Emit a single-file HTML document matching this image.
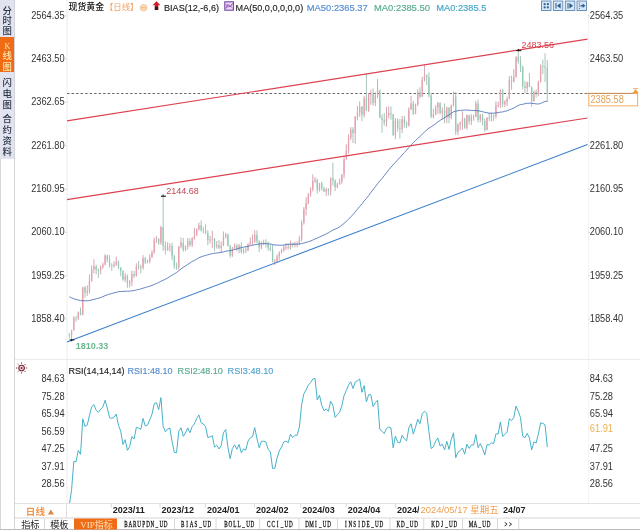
<!DOCTYPE html>
<html><head><meta charset="utf-8"><style>
html,body{margin:0;padding:0;background:#fff;}
body{width:640px;height:530px;overflow:hidden;position:relative;}
.sb{position:absolute;left:0;width:14px;font-family:"Noto Sans CJK SC",sans-serif;font-size:9px;line-height:10.7px;text-align:center;color:#333;}
</style></head><body>
<svg width="640" height="530" viewBox="0 0 640 530" style="position:absolute;left:0;top:0">
<rect x="0" y="0" width="640" height="530" fill="#fff"/>
<rect x="0" y="0" width="14" height="159" fill="#e1e4ee"/>
<rect x="0" y="37" width="14" height="35" fill="#f06c14"/>
<line x1="0.5" y1="159" x2="0.5" y2="530" stroke="#d8d8d8" stroke-width="1"/>
<line x1="14.5" y1="0" x2="14.5" y2="530" stroke="#d2d4da" stroke-width="1"/>
<line x1="67" y1="0" x2="67" y2="503" stroke="#ececec" stroke-width="1"/>
<line x1="588.5" y1="14" x2="588.5" y2="503" stroke="#f4f4f4" stroke-width="1"/>
<line x1="15" y1="359.5" x2="640" y2="359.5" stroke="#ebebeb" stroke-width="1"/>
<line x1="15" y1="503.5" x2="640" y2="503.5" stroke="#e2e2e2" stroke-width="1"/>
<line x1="15" y1="518" x2="640" y2="518" stroke="#d4d4d4" stroke-width="1"/>
<line x1="0" y1="529.5" x2="640" y2="529.5" stroke="#bbb" stroke-width="1"/>
<line x1="67.1" y1="93.5" x2="588" y2="93.5" stroke="#444" stroke-width="1" stroke-dasharray="2.5 2" opacity="0.8"/><line x1="69.35" y1="332.90" x2="69.35" y2="338.49" stroke="#88b0a0" stroke-width="0.75"/><rect x="68.70" y="335.05" width="1.3" height="0.80" fill="#92ccb4"/><line x1="71.58" y1="329.90" x2="71.58" y2="339.64" stroke="#c88898" stroke-width="0.75"/><rect x="70.93" y="330.33" width="1.3" height="5.16" fill="#e6a0ae"/><line x1="73.82" y1="316.15" x2="73.82" y2="330.33" stroke="#c88898" stroke-width="0.75"/><rect x="73.17" y="317.87" width="1.3" height="12.46" fill="#e6a0ae"/><line x1="76.05" y1="316.15" x2="76.05" y2="321.74" stroke="#88b0a0" stroke-width="0.75"/><rect x="75.40" y="317.87" width="1.3" height="0.80" fill="#92ccb4"/><line x1="78.28" y1="311.42" x2="78.28" y2="320.02" stroke="#c88898" stroke-width="0.75"/><rect x="77.63" y="312.28" width="1.3" height="6.01" fill="#e6a0ae"/><line x1="80.52" y1="307.56" x2="80.52" y2="315.29" stroke="#88b0a0" stroke-width="0.75"/><rect x="79.87" y="312.28" width="1.3" height="2.58" fill="#92ccb4"/><line x1="82.75" y1="286.94" x2="82.75" y2="315.29" stroke="#c88898" stroke-width="0.75"/><rect x="82.10" y="287.37" width="1.3" height="27.49" fill="#e6a0ae"/><line x1="84.98" y1="286.08" x2="84.98" y2="297.68" stroke="#88b0a0" stroke-width="0.75"/><rect x="84.33" y="287.37" width="1.3" height="5.16" fill="#92ccb4"/><line x1="87.22" y1="285.22" x2="87.22" y2="295.96" stroke="#c88898" stroke-width="0.75"/><rect x="86.57" y="291.23" width="1.3" height="1.29" fill="#e6a0ae"/><line x1="89.45" y1="274.48" x2="89.45" y2="293.81" stroke="#c88898" stroke-width="0.75"/><rect x="88.80" y="280.92" width="1.3" height="10.31" fill="#e6a0ae"/><line x1="91.68" y1="265.46" x2="91.68" y2="281.78" stroke="#c88898" stroke-width="0.75"/><rect x="91.03" y="269.32" width="1.3" height="11.60" fill="#e6a0ae"/><line x1="93.92" y1="259.44" x2="93.92" y2="273.19" stroke="#c88898" stroke-width="0.75"/><rect x="93.27" y="266.32" width="1.3" height="3.01" fill="#e6a0ae"/><line x1="96.15" y1="264.60" x2="96.15" y2="274.48" stroke="#88b0a0" stroke-width="0.75"/><rect x="95.50" y="266.32" width="1.3" height="3.44" fill="#92ccb4"/><line x1="98.38" y1="268.46" x2="98.38" y2="277.92" stroke="#88b0a0" stroke-width="0.75"/><rect x="97.73" y="269.75" width="1.3" height="1.29" fill="#92ccb4"/><line x1="100.62" y1="265.46" x2="100.62" y2="274.48" stroke="#c88898" stroke-width="0.75"/><rect x="99.97" y="267.18" width="1.3" height="3.87" fill="#e6a0ae"/><line x1="102.85" y1="262.45" x2="102.85" y2="268.89" stroke="#c88898" stroke-width="0.75"/><rect x="102.20" y="264.60" width="1.3" height="2.58" fill="#e6a0ae"/><line x1="105.08" y1="254.29" x2="105.08" y2="265.46" stroke="#c88898" stroke-width="0.75"/><rect x="104.43" y="255.58" width="1.3" height="9.02" fill="#e6a0ae"/><line x1="107.32" y1="254.72" x2="107.32" y2="262.45" stroke="#88b0a0" stroke-width="0.75"/><rect x="106.67" y="255.58" width="1.3" height="4.30" fill="#92ccb4"/><line x1="109.55" y1="255.15" x2="109.55" y2="267.61" stroke="#88b0a0" stroke-width="0.75"/><rect x="108.90" y="259.87" width="1.3" height="5.58" fill="#92ccb4"/><line x1="111.78" y1="263.31" x2="111.78" y2="271.04" stroke="#88b0a0" stroke-width="0.75"/><rect x="111.13" y="265.46" width="1.3" height="0.80" fill="#92ccb4"/><line x1="114.02" y1="261.16" x2="114.02" y2="267.61" stroke="#c88898" stroke-width="0.75"/><rect x="113.37" y="264.60" width="1.3" height="1.29" fill="#e6a0ae"/><line x1="116.25" y1="256.44" x2="116.25" y2="265.89" stroke="#c88898" stroke-width="0.75"/><rect x="115.60" y="261.59" width="1.3" height="3.01" fill="#e6a0ae"/><line x1="118.48" y1="260.73" x2="118.48" y2="268.89" stroke="#88b0a0" stroke-width="0.75"/><rect x="117.83" y="261.59" width="1.3" height="6.01" fill="#92ccb4"/><line x1="120.72" y1="267.18" x2="120.72" y2="276.20" stroke="#88b0a0" stroke-width="0.75"/><rect x="120.07" y="267.61" width="1.3" height="3.44" fill="#92ccb4"/><line x1="122.95" y1="270.18" x2="122.95" y2="280.92" stroke="#88b0a0" stroke-width="0.75"/><rect x="122.30" y="271.04" width="1.3" height="8.59" fill="#92ccb4"/><line x1="125.19" y1="273.19" x2="125.19" y2="282.21" stroke="#c88898" stroke-width="0.75"/><rect x="124.53" y="276.20" width="1.3" height="3.44" fill="#e6a0ae"/><line x1="127.42" y1="274.48" x2="127.42" y2="287.80" stroke="#88b0a0" stroke-width="0.75"/><rect x="126.77" y="276.20" width="1.3" height="7.73" fill="#92ccb4"/><line x1="129.65" y1="280.06" x2="129.65" y2="287.37" stroke="#c88898" stroke-width="0.75"/><rect x="129.00" y="281.35" width="1.3" height="2.58" fill="#e6a0ae"/><line x1="131.89" y1="270.61" x2="131.89" y2="286.08" stroke="#c88898" stroke-width="0.75"/><rect x="131.24" y="274.05" width="1.3" height="7.30" fill="#e6a0ae"/><line x1="134.12" y1="271.04" x2="134.12" y2="277.92" stroke="#88b0a0" stroke-width="0.75"/><rect x="133.47" y="274.05" width="1.3" height="1.72" fill="#92ccb4"/><line x1="136.35" y1="263.31" x2="136.35" y2="276.63" stroke="#c88898" stroke-width="0.75"/><rect x="135.70" y="266.32" width="1.3" height="9.45" fill="#e6a0ae"/><line x1="138.59" y1="261.16" x2="138.59" y2="269.75" stroke="#88b0a0" stroke-width="0.75"/><rect x="137.94" y="266.32" width="1.3" height="0.80" fill="#92ccb4"/><line x1="140.82" y1="264.60" x2="140.82" y2="273.19" stroke="#88b0a0" stroke-width="0.75"/><rect x="140.17" y="266.75" width="1.3" height="0.86" fill="#92ccb4"/><line x1="143.05" y1="255.15" x2="143.05" y2="269.75" stroke="#c88898" stroke-width="0.75"/><rect x="142.40" y="258.15" width="1.3" height="9.45" fill="#e6a0ae"/><line x1="145.29" y1="256.87" x2="145.29" y2="264.17" stroke="#88b0a0" stroke-width="0.75"/><rect x="144.64" y="258.15" width="1.3" height="4.30" fill="#92ccb4"/><line x1="147.52" y1="259.44" x2="147.52" y2="263.31" stroke="#c88898" stroke-width="0.75"/><rect x="146.87" y="261.59" width="1.3" height="0.86" fill="#e6a0ae"/><line x1="149.75" y1="254.29" x2="149.75" y2="263.31" stroke="#c88898" stroke-width="0.75"/><rect x="149.10" y="257.30" width="1.3" height="4.30" fill="#e6a0ae"/><line x1="151.99" y1="250.42" x2="151.99" y2="257.72" stroke="#c88898" stroke-width="0.75"/><rect x="151.34" y="252.14" width="1.3" height="5.16" fill="#e6a0ae"/><line x1="154.22" y1="237.53" x2="154.22" y2="253.86" stroke="#c88898" stroke-width="0.75"/><rect x="153.57" y="240.54" width="1.3" height="11.60" fill="#e6a0ae"/><line x1="156.45" y1="235.82" x2="156.45" y2="243.12" stroke="#c88898" stroke-width="0.75"/><rect x="155.80" y="239.25" width="1.3" height="1.29" fill="#e6a0ae"/><line x1="158.69" y1="237.96" x2="158.69" y2="244.84" stroke="#88b0a0" stroke-width="0.75"/><rect x="158.04" y="239.25" width="1.3" height="3.44" fill="#92ccb4"/><line x1="160.92" y1="225.93" x2="160.92" y2="244.84" stroke="#c88898" stroke-width="0.75"/><rect x="160.27" y="227.22" width="1.3" height="15.47" fill="#e6a0ae"/><line x1="163.15" y1="196.00" x2="163.15" y2="250.85" stroke="#88b0a0" stroke-width="0.75"/><rect x="162.50" y="227.22" width="1.3" height="18.47" fill="#92ccb4"/><line x1="165.39" y1="241.40" x2="165.39" y2="254.29" stroke="#88b0a0" stroke-width="0.75"/><rect x="164.74" y="245.70" width="1.3" height="4.30" fill="#92ccb4"/><line x1="167.62" y1="242.26" x2="167.62" y2="250.85" stroke="#c88898" stroke-width="0.75"/><rect x="166.97" y="246.98" width="1.3" height="3.01" fill="#e6a0ae"/><line x1="169.85" y1="243.12" x2="169.85" y2="251.71" stroke="#c88898" stroke-width="0.75"/><rect x="169.20" y="246.13" width="1.3" height="0.86" fill="#e6a0ae"/><line x1="172.09" y1="242.69" x2="172.09" y2="260.30" stroke="#88b0a0" stroke-width="0.75"/><rect x="171.44" y="246.13" width="1.3" height="10.31" fill="#92ccb4"/><line x1="174.32" y1="254.72" x2="174.32" y2="268.89" stroke="#88b0a0" stroke-width="0.75"/><rect x="173.67" y="256.44" width="1.3" height="9.88" fill="#92ccb4"/><line x1="176.55" y1="262.45" x2="176.55" y2="269.75" stroke="#88b0a0" stroke-width="0.75"/><rect x="175.90" y="266.32" width="1.3" height="0.80" fill="#92ccb4"/><line x1="178.79" y1="246.13" x2="178.79" y2="269.75" stroke="#c88898" stroke-width="0.75"/><rect x="178.14" y="246.56" width="1.3" height="20.19" fill="#e6a0ae"/><line x1="181.02" y1="237.53" x2="181.02" y2="248.27" stroke="#c88898" stroke-width="0.75"/><rect x="180.37" y="242.69" width="1.3" height="3.87" fill="#e6a0ae"/><line x1="183.25" y1="237.96" x2="183.25" y2="251.71" stroke="#88b0a0" stroke-width="0.75"/><rect x="182.60" y="242.69" width="1.3" height="7.30" fill="#92ccb4"/><line x1="185.49" y1="245.27" x2="185.49" y2="251.28" stroke="#c88898" stroke-width="0.75"/><rect x="184.84" y="246.56" width="1.3" height="3.44" fill="#e6a0ae"/><line x1="187.72" y1="237.96" x2="187.72" y2="249.56" stroke="#c88898" stroke-width="0.75"/><rect x="187.07" y="240.97" width="1.3" height="5.58" fill="#e6a0ae"/><line x1="189.95" y1="238.39" x2="189.95" y2="246.98" stroke="#88b0a0" stroke-width="0.75"/><rect x="189.30" y="240.97" width="1.3" height="3.87" fill="#92ccb4"/><line x1="192.19" y1="237.10" x2="192.19" y2="246.98" stroke="#c88898" stroke-width="0.75"/><rect x="191.54" y="238.39" width="1.3" height="6.44" fill="#e6a0ae"/><line x1="194.42" y1="227.65" x2="194.42" y2="239.68" stroke="#c88898" stroke-width="0.75"/><rect x="193.77" y="235.39" width="1.3" height="3.01" fill="#e6a0ae"/><line x1="196.65" y1="228.51" x2="196.65" y2="235.82" stroke="#c88898" stroke-width="0.75"/><rect x="196.00" y="229.37" width="1.3" height="6.01" fill="#e6a0ae"/><line x1="198.89" y1="222.50" x2="198.89" y2="230.23" stroke="#c88898" stroke-width="0.75"/><rect x="198.24" y="225.08" width="1.3" height="4.30" fill="#e6a0ae"/><line x1="201.12" y1="220.35" x2="201.12" y2="231.52" stroke="#88b0a0" stroke-width="0.75"/><rect x="200.47" y="225.08" width="1.3" height="5.16" fill="#92ccb4"/><line x1="203.35" y1="226.79" x2="203.35" y2="233.24" stroke="#88b0a0" stroke-width="0.75"/><rect x="202.70" y="230.23" width="1.3" height="0.86" fill="#92ccb4"/><line x1="205.59" y1="224.22" x2="205.59" y2="234.10" stroke="#88b0a0" stroke-width="0.75"/><rect x="204.94" y="231.09" width="1.3" height="1.72" fill="#92ccb4"/><line x1="207.82" y1="230.23" x2="207.82" y2="245.27" stroke="#88b0a0" stroke-width="0.75"/><rect x="207.17" y="232.81" width="1.3" height="7.30" fill="#92ccb4"/><line x1="210.05" y1="235.82" x2="210.05" y2="243.55" stroke="#c88898" stroke-width="0.75"/><rect x="209.40" y="239.68" width="1.3" height="0.80" fill="#e6a0ae"/><line x1="212.29" y1="230.66" x2="212.29" y2="247.84" stroke="#c88898" stroke-width="0.75"/><rect x="211.64" y="238.82" width="1.3" height="0.86" fill="#e6a0ae"/><line x1="214.52" y1="237.96" x2="214.52" y2="251.28" stroke="#88b0a0" stroke-width="0.75"/><rect x="213.87" y="238.82" width="1.3" height="7.73" fill="#92ccb4"/><line x1="216.75" y1="240.97" x2="216.75" y2="248.70" stroke="#c88898" stroke-width="0.75"/><rect x="216.10" y="245.27" width="1.3" height="1.29" fill="#e6a0ae"/><line x1="218.99" y1="240.11" x2="218.99" y2="249.13" stroke="#88b0a0" stroke-width="0.75"/><rect x="218.34" y="245.27" width="1.3" height="2.58" fill="#92ccb4"/><line x1="221.22" y1="241.40" x2="221.22" y2="252.57" stroke="#c88898" stroke-width="0.75"/><rect x="220.57" y="245.70" width="1.3" height="2.15" fill="#e6a0ae"/><line x1="223.45" y1="231.52" x2="223.45" y2="246.13" stroke="#c88898" stroke-width="0.75"/><rect x="222.80" y="237.10" width="1.3" height="8.59" fill="#e6a0ae"/><line x1="225.69" y1="232.81" x2="225.69" y2="238.39" stroke="#c88898" stroke-width="0.75"/><rect x="225.04" y="234.53" width="1.3" height="2.58" fill="#e6a0ae"/><line x1="227.92" y1="233.67" x2="227.92" y2="246.13" stroke="#88b0a0" stroke-width="0.75"/><rect x="227.27" y="234.53" width="1.3" height="11.60" fill="#92ccb4"/><line x1="230.15" y1="244.84" x2="230.15" y2="257.72" stroke="#88b0a0" stroke-width="0.75"/><rect x="229.50" y="246.13" width="1.3" height="9.45" fill="#92ccb4"/><line x1="232.39" y1="246.98" x2="232.39" y2="256.87" stroke="#c88898" stroke-width="0.75"/><rect x="231.74" y="248.27" width="1.3" height="7.30" fill="#e6a0ae"/><line x1="234.62" y1="243.55" x2="234.62" y2="249.56" stroke="#c88898" stroke-width="0.75"/><rect x="233.97" y="245.70" width="1.3" height="2.58" fill="#e6a0ae"/><line x1="236.85" y1="243.55" x2="236.85" y2="251.28" stroke="#88b0a0" stroke-width="0.75"/><rect x="236.20" y="245.70" width="1.3" height="3.44" fill="#92ccb4"/><line x1="239.09" y1="243.98" x2="239.09" y2="253.43" stroke="#c88898" stroke-width="0.75"/><rect x="238.44" y="245.70" width="1.3" height="3.44" fill="#e6a0ae"/><line x1="241.32" y1="242.26" x2="241.32" y2="253.43" stroke="#88b0a0" stroke-width="0.75"/><rect x="240.67" y="245.70" width="1.3" height="6.44" fill="#92ccb4"/><line x1="243.56" y1="248.27" x2="243.56" y2="253.86" stroke="#c88898" stroke-width="0.75"/><rect x="242.91" y="249.56" width="1.3" height="2.58" fill="#e6a0ae"/><line x1="245.79" y1="246.56" x2="245.79" y2="253.00" stroke="#88b0a0" stroke-width="0.75"/><rect x="245.14" y="249.56" width="1.3" height="0.86" fill="#92ccb4"/><line x1="248.02" y1="243.12" x2="248.02" y2="251.28" stroke="#c88898" stroke-width="0.75"/><rect x="247.37" y="244.41" width="1.3" height="6.01" fill="#e6a0ae"/><line x1="250.26" y1="237.53" x2="250.26" y2="244.84" stroke="#c88898" stroke-width="0.75"/><rect x="249.61" y="242.26" width="1.3" height="2.15" fill="#e6a0ae"/><line x1="252.49" y1="234.53" x2="252.49" y2="245.27" stroke="#c88898" stroke-width="0.75"/><rect x="251.84" y="241.40" width="1.3" height="0.86" fill="#e6a0ae"/><line x1="254.72" y1="230.23" x2="254.72" y2="243.12" stroke="#c88898" stroke-width="0.75"/><rect x="254.07" y="234.96" width="1.3" height="6.44" fill="#e6a0ae"/><line x1="256.96" y1="230.23" x2="256.96" y2="243.12" stroke="#88b0a0" stroke-width="0.75"/><rect x="256.31" y="234.96" width="1.3" height="6.44" fill="#92ccb4"/><line x1="259.19" y1="240.11" x2="259.19" y2="252.14" stroke="#88b0a0" stroke-width="0.75"/><rect x="258.54" y="241.40" width="1.3" height="6.01" fill="#92ccb4"/><line x1="261.42" y1="240.97" x2="261.42" y2="249.13" stroke="#c88898" stroke-width="0.75"/><rect x="260.77" y="243.12" width="1.3" height="4.30" fill="#e6a0ae"/><line x1="263.66" y1="239.68" x2="263.66" y2="245.27" stroke="#c88898" stroke-width="0.75"/><rect x="263.01" y="243.12" width="1.3" height="0.80" fill="#e6a0ae"/><line x1="265.89" y1="239.25" x2="265.89" y2="247.41" stroke="#88b0a0" stroke-width="0.75"/><rect x="265.24" y="243.12" width="1.3" height="0.80" fill="#92ccb4"/><line x1="268.12" y1="241.40" x2="268.12" y2="250.85" stroke="#88b0a0" stroke-width="0.75"/><rect x="267.47" y="243.55" width="1.3" height="4.30" fill="#92ccb4"/><line x1="270.36" y1="244.41" x2="270.36" y2="251.28" stroke="#88b0a0" stroke-width="0.75"/><rect x="269.71" y="247.84" width="1.3" height="1.72" fill="#92ccb4"/><line x1="272.59" y1="244.84" x2="272.59" y2="262.45" stroke="#88b0a0" stroke-width="0.75"/><rect x="271.94" y="249.56" width="1.3" height="12.03" fill="#92ccb4"/><line x1="274.82" y1="259.01" x2="274.82" y2="265.03" stroke="#c88898" stroke-width="0.75"/><rect x="274.17" y="261.59" width="1.3" height="0.80" fill="#e6a0ae"/><line x1="277.06" y1="254.29" x2="277.06" y2="262.88" stroke="#c88898" stroke-width="0.75"/><rect x="276.41" y="256.44" width="1.3" height="5.16" fill="#e6a0ae"/><line x1="279.29" y1="251.28" x2="279.29" y2="260.30" stroke="#c88898" stroke-width="0.75"/><rect x="278.64" y="252.57" width="1.3" height="3.87" fill="#e6a0ae"/><line x1="281.52" y1="248.70" x2="281.52" y2="253.43" stroke="#c88898" stroke-width="0.75"/><rect x="280.87" y="250.42" width="1.3" height="2.15" fill="#e6a0ae"/><line x1="283.76" y1="244.84" x2="283.76" y2="251.71" stroke="#c88898" stroke-width="0.75"/><rect x="283.11" y="247.41" width="1.3" height="3.01" fill="#e6a0ae"/><line x1="285.99" y1="243.12" x2="285.99" y2="249.99" stroke="#c88898" stroke-width="0.75"/><rect x="285.34" y="246.98" width="1.3" height="0.80" fill="#e6a0ae"/><line x1="288.22" y1="243.55" x2="288.22" y2="249.56" stroke="#88b0a0" stroke-width="0.75"/><rect x="287.57" y="246.98" width="1.3" height="0.86" fill="#92ccb4"/><line x1="290.46" y1="240.54" x2="290.46" y2="249.56" stroke="#c88898" stroke-width="0.75"/><rect x="289.81" y="243.12" width="1.3" height="4.73" fill="#e6a0ae"/><line x1="292.69" y1="242.69" x2="292.69" y2="247.41" stroke="#88b0a0" stroke-width="0.75"/><rect x="292.04" y="243.12" width="1.3" height="1.72" fill="#92ccb4"/><line x1="294.92" y1="241.83" x2="294.92" y2="247.41" stroke="#c88898" stroke-width="0.75"/><rect x="294.27" y="243.55" width="1.3" height="1.29" fill="#e6a0ae"/><line x1="297.16" y1="241.40" x2="297.16" y2="247.41" stroke="#c88898" stroke-width="0.75"/><rect x="296.51" y="243.55" width="1.3" height="0.80" fill="#e6a0ae"/><line x1="299.39" y1="235.82" x2="299.39" y2="244.84" stroke="#c88898" stroke-width="0.75"/><rect x="298.74" y="239.25" width="1.3" height="4.30" fill="#e6a0ae"/><line x1="301.62" y1="220.35" x2="301.62" y2="241.40" stroke="#c88898" stroke-width="0.75"/><rect x="300.97" y="222.50" width="1.3" height="16.75" fill="#e6a0ae"/><line x1="303.86" y1="207.03" x2="303.86" y2="224.65" stroke="#c88898" stroke-width="0.75"/><rect x="303.21" y="209.18" width="1.3" height="13.32" fill="#e6a0ae"/><line x1="306.09" y1="197.15" x2="306.09" y2="215.62" stroke="#c88898" stroke-width="0.75"/><rect x="305.44" y="203.17" width="1.3" height="6.01" fill="#e6a0ae"/><line x1="308.32" y1="192.86" x2="308.32" y2="204.45" stroke="#c88898" stroke-width="0.75"/><rect x="307.67" y="194.57" width="1.3" height="8.59" fill="#e6a0ae"/><line x1="310.56" y1="187.27" x2="310.56" y2="196.72" stroke="#c88898" stroke-width="0.75"/><rect x="309.91" y="189.42" width="1.3" height="5.16" fill="#e6a0ae"/><line x1="312.79" y1="174.38" x2="312.79" y2="191.57" stroke="#c88898" stroke-width="0.75"/><rect x="312.14" y="181.26" width="1.3" height="8.16" fill="#e6a0ae"/><line x1="315.02" y1="176.96" x2="315.02" y2="182.97" stroke="#c88898" stroke-width="0.75"/><rect x="314.37" y="179.97" width="1.3" height="1.29" fill="#e6a0ae"/><line x1="317.26" y1="178.68" x2="317.26" y2="193.71" stroke="#88b0a0" stroke-width="0.75"/><rect x="316.61" y="179.97" width="1.3" height="10.31" fill="#92ccb4"/><line x1="319.49" y1="182.97" x2="319.49" y2="191.57" stroke="#c88898" stroke-width="0.75"/><rect x="318.84" y="182.97" width="1.3" height="7.30" fill="#e6a0ae"/><line x1="321.72" y1="181.69" x2="321.72" y2="190.71" stroke="#88b0a0" stroke-width="0.75"/><rect x="321.07" y="182.97" width="1.3" height="5.58" fill="#92ccb4"/><line x1="323.96" y1="186.41" x2="323.96" y2="192.00" stroke="#88b0a0" stroke-width="0.75"/><rect x="323.31" y="188.56" width="1.3" height="3.01" fill="#92ccb4"/><line x1="326.19" y1="187.70" x2="326.19" y2="195.86" stroke="#c88898" stroke-width="0.75"/><rect x="325.54" y="189.42" width="1.3" height="2.15" fill="#e6a0ae"/><line x1="328.42" y1="188.13" x2="328.42" y2="195.43" stroke="#88b0a0" stroke-width="0.75"/><rect x="327.77" y="189.42" width="1.3" height="1.29" fill="#92ccb4"/><line x1="330.66" y1="177.39" x2="330.66" y2="195.43" stroke="#c88898" stroke-width="0.75"/><rect x="330.01" y="178.25" width="1.3" height="12.46" fill="#e6a0ae"/><line x1="332.89" y1="162.78" x2="332.89" y2="185.55" stroke="#88b0a0" stroke-width="0.75"/><rect x="332.24" y="178.25" width="1.3" height="2.15" fill="#92ccb4"/><line x1="335.12" y1="179.54" x2="335.12" y2="191.14" stroke="#88b0a0" stroke-width="0.75"/><rect x="334.47" y="180.40" width="1.3" height="6.87" fill="#92ccb4"/><line x1="337.36" y1="182.54" x2="337.36" y2="188.13" stroke="#c88898" stroke-width="0.75"/><rect x="336.71" y="184.26" width="1.3" height="3.01" fill="#e6a0ae"/><line x1="339.59" y1="178.68" x2="339.59" y2="184.69" stroke="#c88898" stroke-width="0.75"/><rect x="338.94" y="181.69" width="1.3" height="2.58" fill="#e6a0ae"/><line x1="341.82" y1="174.38" x2="341.82" y2="183.83" stroke="#c88898" stroke-width="0.75"/><rect x="341.17" y="174.38" width="1.3" height="7.30" fill="#e6a0ae"/><line x1="344.06" y1="157.20" x2="344.06" y2="178.25" stroke="#c88898" stroke-width="0.75"/><rect x="343.41" y="159.35" width="1.3" height="15.04" fill="#e6a0ae"/><line x1="346.29" y1="144.31" x2="346.29" y2="160.21" stroke="#c88898" stroke-width="0.75"/><rect x="345.64" y="150.32" width="1.3" height="8.16" fill="#e6a0ae"/><line x1="348.52" y1="134.43" x2="348.52" y2="153.76" stroke="#c88898" stroke-width="0.75"/><rect x="347.88" y="137.87" width="1.3" height="12.46" fill="#e6a0ae"/><line x1="350.76" y1="127.13" x2="350.76" y2="140.01" stroke="#c88898" stroke-width="0.75"/><rect x="350.11" y="129.27" width="1.3" height="8.59" fill="#e6a0ae"/><line x1="352.99" y1="127.13" x2="352.99" y2="143.02" stroke="#88b0a0" stroke-width="0.75"/><rect x="352.34" y="129.27" width="1.3" height="3.87" fill="#92ccb4"/><line x1="355.23" y1="116.39" x2="355.23" y2="143.88" stroke="#c88898" stroke-width="0.75"/><rect x="354.58" y="116.39" width="1.3" height="16.75" fill="#e6a0ae"/><line x1="357.46" y1="106.08" x2="357.46" y2="120.25" stroke="#c88898" stroke-width="0.75"/><rect x="356.81" y="112.52" width="1.3" height="3.87" fill="#e6a0ae"/><line x1="359.69" y1="101.35" x2="359.69" y2="116.82" stroke="#c88898" stroke-width="0.75"/><rect x="359.04" y="106.94" width="1.3" height="5.58" fill="#e6a0ae"/><line x1="361.93" y1="106.08" x2="361.93" y2="121.11" stroke="#88b0a0" stroke-width="0.75"/><rect x="361.28" y="106.94" width="1.3" height="8.16" fill="#92ccb4"/><line x1="364.16" y1="95.77" x2="364.16" y2="117.68" stroke="#c88898" stroke-width="0.75"/><rect x="363.51" y="98.34" width="1.3" height="16.75" fill="#e6a0ae"/><line x1="366.39" y1="73.00" x2="366.39" y2="111.23" stroke="#88b0a0" stroke-width="0.75"/><rect x="365.74" y="98.34" width="1.3" height="12.03" fill="#92ccb4"/><line x1="368.63" y1="93.19" x2="368.63" y2="112.09" stroke="#c88898" stroke-width="0.75"/><rect x="367.98" y="93.62" width="1.3" height="16.75" fill="#e6a0ae"/><line x1="370.86" y1="89.75" x2="370.86" y2="104.79" stroke="#c88898" stroke-width="0.75"/><rect x="370.21" y="93.62" width="1.3" height="0.80" fill="#e6a0ae"/><line x1="373.09" y1="88.46" x2="373.09" y2="105.65" stroke="#88b0a0" stroke-width="0.75"/><rect x="372.44" y="93.62" width="1.3" height="9.45" fill="#92ccb4"/><line x1="375.33" y1="92.33" x2="375.33" y2="106.08" stroke="#c88898" stroke-width="0.75"/><rect x="374.68" y="95.34" width="1.3" height="7.73" fill="#e6a0ae"/><line x1="377.56" y1="79.01" x2="377.56" y2="98.34" stroke="#c88898" stroke-width="0.75"/><rect x="376.91" y="90.18" width="1.3" height="5.16" fill="#e6a0ae"/><line x1="379.79" y1="89.75" x2="379.79" y2="118.10" stroke="#88b0a0" stroke-width="0.75"/><rect x="379.14" y="90.18" width="1.3" height="27.49" fill="#92ccb4"/><line x1="382.03" y1="114.24" x2="382.03" y2="132.71" stroke="#88b0a0" stroke-width="0.75"/><rect x="381.38" y="117.68" width="1.3" height="2.15" fill="#92ccb4"/><line x1="384.26" y1="112.95" x2="384.26" y2="125.84" stroke="#88b0a0" stroke-width="0.75"/><rect x="383.61" y="119.82" width="1.3" height="2.58" fill="#92ccb4"/><line x1="386.49" y1="106.94" x2="386.49" y2="126.70" stroke="#c88898" stroke-width="0.75"/><rect x="385.84" y="115.53" width="1.3" height="6.87" fill="#e6a0ae"/><line x1="388.73" y1="106.51" x2="388.73" y2="118.53" stroke="#c88898" stroke-width="0.75"/><rect x="388.08" y="113.38" width="1.3" height="2.15" fill="#e6a0ae"/><line x1="390.96" y1="106.51" x2="390.96" y2="119.82" stroke="#88b0a0" stroke-width="0.75"/><rect x="390.31" y="113.38" width="1.3" height="0.86" fill="#92ccb4"/><line x1="393.19" y1="113.81" x2="393.19" y2="135.72" stroke="#88b0a0" stroke-width="0.75"/><rect x="392.54" y="114.24" width="1.3" height="21.05" fill="#92ccb4"/><line x1="395.43" y1="118.10" x2="395.43" y2="139.16" stroke="#c88898" stroke-width="0.75"/><rect x="394.78" y="120.68" width="1.3" height="14.61" fill="#e6a0ae"/><line x1="397.66" y1="118.10" x2="397.66" y2="131.42" stroke="#88b0a0" stroke-width="0.75"/><rect x="397.01" y="120.68" width="1.3" height="7.30" fill="#92ccb4"/><line x1="399.89" y1="118.96" x2="399.89" y2="138.73" stroke="#88b0a0" stroke-width="0.75"/><rect x="399.24" y="127.99" width="1.3" height="0.86" fill="#92ccb4"/><line x1="402.13" y1="115.96" x2="402.13" y2="133.14" stroke="#c88898" stroke-width="0.75"/><rect x="401.48" y="119.39" width="1.3" height="9.45" fill="#e6a0ae"/><line x1="404.36" y1="115.96" x2="404.36" y2="127.56" stroke="#88b0a0" stroke-width="0.75"/><rect x="403.71" y="119.39" width="1.3" height="3.87" fill="#92ccb4"/><line x1="406.59" y1="121.11" x2="406.59" y2="127.99" stroke="#88b0a0" stroke-width="0.75"/><rect x="405.94" y="123.26" width="1.3" height="2.15" fill="#92ccb4"/><line x1="408.83" y1="107.36" x2="408.83" y2="126.70" stroke="#c88898" stroke-width="0.75"/><rect x="408.18" y="109.51" width="1.3" height="15.90" fill="#e6a0ae"/><line x1="411.06" y1="95.77" x2="411.06" y2="109.94" stroke="#c88898" stroke-width="0.75"/><rect x="410.41" y="103.50" width="1.3" height="6.01" fill="#e6a0ae"/><line x1="413.29" y1="100.92" x2="413.29" y2="115.10" stroke="#88b0a0" stroke-width="0.75"/><rect x="412.64" y="103.50" width="1.3" height="10.31" fill="#92ccb4"/><line x1="415.53" y1="103.50" x2="415.53" y2="114.24" stroke="#c88898" stroke-width="0.75"/><rect x="414.88" y="104.36" width="1.3" height="9.45" fill="#e6a0ae"/><line x1="417.76" y1="89.32" x2="417.76" y2="106.08" stroke="#c88898" stroke-width="0.75"/><rect x="417.11" y="92.33" width="1.3" height="12.03" fill="#e6a0ae"/><line x1="419.99" y1="87.17" x2="419.99" y2="98.34" stroke="#88b0a0" stroke-width="0.75"/><rect x="419.34" y="92.33" width="1.3" height="4.30" fill="#92ccb4"/><line x1="422.23" y1="76.86" x2="422.23" y2="97.05" stroke="#c88898" stroke-width="0.75"/><rect x="421.58" y="79.87" width="1.3" height="16.75" fill="#e6a0ae"/><line x1="424.46" y1="64.83" x2="424.46" y2="81.59" stroke="#c88898" stroke-width="0.75"/><rect x="423.81" y="75.57" width="1.3" height="4.30" fill="#e6a0ae"/><line x1="426.69" y1="74.29" x2="426.69" y2="85.03" stroke="#88b0a0" stroke-width="0.75"/><rect x="426.04" y="75.57" width="1.3" height="1.72" fill="#92ccb4"/><line x1="428.93" y1="72.57" x2="428.93" y2="97.48" stroke="#88b0a0" stroke-width="0.75"/><rect x="428.28" y="77.29" width="1.3" height="18.04" fill="#92ccb4"/><line x1="431.16" y1="92.76" x2="431.16" y2="118.10" stroke="#88b0a0" stroke-width="0.75"/><rect x="430.51" y="95.34" width="1.3" height="21.48" fill="#92ccb4"/><line x1="433.39" y1="108.65" x2="433.39" y2="118.53" stroke="#c88898" stroke-width="0.75"/><rect x="432.74" y="114.67" width="1.3" height="2.15" fill="#e6a0ae"/><line x1="435.63" y1="105.22" x2="435.63" y2="115.10" stroke="#c88898" stroke-width="0.75"/><rect x="434.98" y="107.36" width="1.3" height="7.30" fill="#e6a0ae"/><line x1="437.86" y1="101.78" x2="437.86" y2="113.81" stroke="#c88898" stroke-width="0.75"/><rect x="437.21" y="103.07" width="1.3" height="4.30" fill="#e6a0ae"/><line x1="440.09" y1="102.21" x2="440.09" y2="114.67" stroke="#88b0a0" stroke-width="0.75"/><rect x="439.44" y="103.07" width="1.3" height="9.88" fill="#92ccb4"/><line x1="442.33" y1="107.36" x2="442.33" y2="119.39" stroke="#c88898" stroke-width="0.75"/><rect x="441.68" y="110.80" width="1.3" height="2.15" fill="#e6a0ae"/><line x1="444.56" y1="103.50" x2="444.56" y2="123.26" stroke="#88b0a0" stroke-width="0.75"/><rect x="443.91" y="110.80" width="1.3" height="6.87" fill="#92ccb4"/><line x1="446.79" y1="106.51" x2="446.79" y2="123.26" stroke="#c88898" stroke-width="0.75"/><rect x="446.14" y="107.79" width="1.3" height="9.88" fill="#e6a0ae"/><line x1="449.03" y1="106.94" x2="449.03" y2="123.26" stroke="#88b0a0" stroke-width="0.75"/><rect x="448.38" y="107.79" width="1.3" height="9.88" fill="#92ccb4"/><line x1="451.26" y1="104.36" x2="451.26" y2="119.39" stroke="#c88898" stroke-width="0.75"/><rect x="450.61" y="105.65" width="1.3" height="12.03" fill="#e6a0ae"/><line x1="453.49" y1="91.47" x2="453.49" y2="106.51" stroke="#c88898" stroke-width="0.75"/><rect x="452.84" y="96.62" width="1.3" height="9.02" fill="#e6a0ae"/><line x1="455.73" y1="91.90" x2="455.73" y2="134.86" stroke="#88b0a0" stroke-width="0.75"/><rect x="455.08" y="96.62" width="1.3" height="35.23" fill="#92ccb4"/><line x1="457.96" y1="123.26" x2="457.96" y2="135.29" stroke="#c88898" stroke-width="0.75"/><rect x="457.31" y="124.55" width="1.3" height="7.30" fill="#e6a0ae"/><line x1="460.20" y1="121.54" x2="460.20" y2="130.13" stroke="#c88898" stroke-width="0.75"/><rect x="459.55" y="122.40" width="1.3" height="2.15" fill="#e6a0ae"/><line x1="462.43" y1="111.23" x2="462.43" y2="129.70" stroke="#c88898" stroke-width="0.75"/><rect x="461.78" y="118.96" width="1.3" height="3.44" fill="#e6a0ae"/><line x1="464.66" y1="117.68" x2="464.66" y2="128.84" stroke="#88b0a0" stroke-width="0.75"/><rect x="464.01" y="118.96" width="1.3" height="9.02" fill="#92ccb4"/><line x1="466.90" y1="114.67" x2="466.90" y2="129.70" stroke="#c88898" stroke-width="0.75"/><rect x="466.25" y="115.10" width="1.3" height="12.89" fill="#e6a0ae"/><line x1="469.13" y1="114.67" x2="469.13" y2="124.55" stroke="#88b0a0" stroke-width="0.75"/><rect x="468.48" y="115.10" width="1.3" height="6.01" fill="#92ccb4"/><line x1="471.36" y1="114.24" x2="471.36" y2="124.98" stroke="#c88898" stroke-width="0.75"/><rect x="470.71" y="116.82" width="1.3" height="4.30" fill="#e6a0ae"/><line x1="473.60" y1="114.67" x2="473.60" y2="120.68" stroke="#c88898" stroke-width="0.75"/><rect x="472.95" y="116.82" width="1.3" height="0.80" fill="#e6a0ae"/><line x1="475.83" y1="100.92" x2="475.83" y2="117.25" stroke="#c88898" stroke-width="0.75"/><rect x="475.18" y="103.50" width="1.3" height="13.32" fill="#e6a0ae"/><line x1="478.06" y1="99.63" x2="478.06" y2="122.40" stroke="#88b0a0" stroke-width="0.75"/><rect x="477.41" y="103.50" width="1.3" height="16.32" fill="#92ccb4"/><line x1="480.30" y1="114.24" x2="480.30" y2="122.40" stroke="#c88898" stroke-width="0.75"/><rect x="479.65" y="114.67" width="1.3" height="5.16" fill="#e6a0ae"/><line x1="482.53" y1="113.81" x2="482.53" y2="125.41" stroke="#88b0a0" stroke-width="0.75"/><rect x="481.88" y="114.67" width="1.3" height="6.44" fill="#92ccb4"/><line x1="484.76" y1="118.53" x2="484.76" y2="131.85" stroke="#88b0a0" stroke-width="0.75"/><rect x="484.11" y="121.11" width="1.3" height="9.02" fill="#92ccb4"/><line x1="487.00" y1="117.25" x2="487.00" y2="130.13" stroke="#c88898" stroke-width="0.75"/><rect x="486.35" y="117.68" width="1.3" height="12.46" fill="#e6a0ae"/><line x1="489.23" y1="112.52" x2="489.23" y2="121.11" stroke="#88b0a0" stroke-width="0.75"/><rect x="488.58" y="117.68" width="1.3" height="0.80" fill="#92ccb4"/><line x1="491.46" y1="112.52" x2="491.46" y2="121.54" stroke="#c88898" stroke-width="0.75"/><rect x="490.81" y="115.53" width="1.3" height="2.58" fill="#e6a0ae"/><line x1="493.70" y1="114.24" x2="493.70" y2="121.11" stroke="#88b0a0" stroke-width="0.75"/><rect x="493.05" y="115.53" width="1.3" height="0.86" fill="#92ccb4"/><line x1="495.93" y1="101.35" x2="495.93" y2="118.53" stroke="#c88898" stroke-width="0.75"/><rect x="495.28" y="105.22" width="1.3" height="11.17" fill="#e6a0ae"/><line x1="498.16" y1="101.78" x2="498.16" y2="107.36" stroke="#c88898" stroke-width="0.75"/><rect x="497.51" y="105.22" width="1.3" height="0.80" fill="#e6a0ae"/><line x1="500.40" y1="89.75" x2="500.40" y2="107.79" stroke="#c88898" stroke-width="0.75"/><rect x="499.75" y="89.75" width="1.3" height="15.47" fill="#e6a0ae"/><line x1="502.63" y1="89.32" x2="502.63" y2="106.94" stroke="#88b0a0" stroke-width="0.75"/><rect x="501.98" y="89.75" width="1.3" height="14.61" fill="#92ccb4"/><line x1="504.86" y1="100.06" x2="504.86" y2="106.94" stroke="#c88898" stroke-width="0.75"/><rect x="504.21" y="101.78" width="1.3" height="2.58" fill="#e6a0ae"/><line x1="507.10" y1="96.62" x2="507.10" y2="106.08" stroke="#c88898" stroke-width="0.75"/><rect x="506.45" y="98.77" width="1.3" height="3.01" fill="#e6a0ae"/><line x1="509.33" y1="76.00" x2="509.33" y2="99.20" stroke="#c88898" stroke-width="0.75"/><rect x="508.68" y="79.87" width="1.3" height="18.90" fill="#e6a0ae"/><line x1="511.56" y1="75.57" x2="511.56" y2="89.75" stroke="#88b0a0" stroke-width="0.75"/><rect x="510.91" y="79.87" width="1.3" height="1.72" fill="#92ccb4"/><line x1="513.80" y1="69.13" x2="513.80" y2="82.45" stroke="#c88898" stroke-width="0.75"/><rect x="513.15" y="76.86" width="1.3" height="4.73" fill="#e6a0ae"/><line x1="516.03" y1="56.67" x2="516.03" y2="77.72" stroke="#c88898" stroke-width="0.75"/><rect x="515.38" y="56.67" width="1.3" height="20.19" fill="#e6a0ae"/><line x1="518.26" y1="50.42" x2="518.26" y2="63.55" stroke="#88b0a0" stroke-width="0.75"/><rect x="517.61" y="56.67" width="1.3" height="4.73" fill="#92ccb4"/><line x1="520.50" y1="56.24" x2="520.50" y2="72.14" stroke="#88b0a0" stroke-width="0.75"/><rect x="519.85" y="61.40" width="1.3" height="5.58" fill="#92ccb4"/><line x1="522.73" y1="65.69" x2="522.73" y2="89.32" stroke="#88b0a0" stroke-width="0.75"/><rect x="522.08" y="66.98" width="1.3" height="19.33" fill="#92ccb4"/><line x1="524.96" y1="81.16" x2="524.96" y2="93.19" stroke="#88b0a0" stroke-width="0.75"/><rect x="524.31" y="86.31" width="1.3" height="1.72" fill="#92ccb4"/><line x1="527.20" y1="81.59" x2="527.20" y2="92.33" stroke="#c88898" stroke-width="0.75"/><rect x="526.55" y="82.45" width="1.3" height="5.58" fill="#e6a0ae"/><line x1="529.43" y1="73.00" x2="529.43" y2="83.74" stroke="#88b0a0" stroke-width="0.75"/><rect x="528.78" y="82.45" width="1.3" height="4.73" fill="#92ccb4"/><line x1="531.66" y1="86.31" x2="531.66" y2="106.51" stroke="#88b0a0" stroke-width="0.75"/><rect x="531.01" y="87.17" width="1.3" height="14.18" fill="#92ccb4"/><line x1="533.90" y1="90.61" x2="533.90" y2="101.35" stroke="#c88898" stroke-width="0.75"/><rect x="533.25" y="91.90" width="1.3" height="9.45" fill="#e6a0ae"/><line x1="536.13" y1="89.32" x2="536.13" y2="97.48" stroke="#88b0a0" stroke-width="0.75"/><rect x="535.48" y="91.90" width="1.3" height="1.29" fill="#92ccb4"/><line x1="538.36" y1="80.73" x2="538.36" y2="96.20" stroke="#c88898" stroke-width="0.75"/><rect x="537.71" y="82.02" width="1.3" height="11.17" fill="#e6a0ae"/><line x1="540.60" y1="64.40" x2="540.60" y2="82.45" stroke="#c88898" stroke-width="0.75"/><rect x="539.95" y="66.12" width="1.3" height="15.90" fill="#e6a0ae"/><line x1="542.83" y1="59.68" x2="542.83" y2="74.29" stroke="#88b0a0" stroke-width="0.75"/><rect x="542.18" y="66.12" width="1.3" height="0.80" fill="#92ccb4"/><line x1="545.06" y1="53.24" x2="545.06" y2="82.02" stroke="#88b0a0" stroke-width="0.75"/><rect x="544.41" y="66.55" width="1.3" height="1.29" fill="#92ccb4"/><line x1="547.30" y1="60.11" x2="547.30" y2="101.78" stroke="#88b0a0" stroke-width="0.75"/><rect x="546.65" y="67.84" width="1.3" height="24.67" fill="#92ccb4"/><polyline points="69.35,296.77 71.58,297.86 73.82,298.75 76.05,299.47 78.28,299.99 80.52,300.56 82.75,300.65 84.98,300.79 87.22,300.81 89.45,300.53 91.68,300.00 93.92,299.41 96.15,298.85 98.38,298.25 100.62,297.50 102.85,296.67 105.08,295.67 107.32,294.80 109.55,294.08 111.78,293.50 114.02,292.92 116.25,292.25 118.48,291.75 120.72,291.47 122.95,291.40 125.19,291.24 127.42,291.24 129.65,291.17 131.89,290.86 134.12,290.49 136.35,289.95 138.59,289.43 140.82,288.95 143.05,288.20 145.29,287.50 147.52,286.79 149.75,286.12 151.99,285.43 154.22,284.49 156.45,283.51 158.69,282.51 160.92,281.25 163.15,280.28 165.39,279.27 167.62,277.96 169.85,276.56 172.09,275.22 174.32,273.90 176.55,272.55 178.79,270.78 181.02,268.92 183.25,267.31 185.49,265.89 187.72,264.34 189.95,262.99 192.19,261.46 194.42,260.42 196.65,259.16 198.89,257.84 201.12,256.82 203.35,256.06 205.59,255.39 207.82,254.80 210.05,254.17 212.29,253.60 214.52,253.24 216.75,253.03 218.99,252.79 221.22,252.40 223.45,251.82 225.69,251.22 227.92,250.91 230.15,250.67 232.39,250.22 234.62,249.54 236.85,249.00 239.09,248.23 241.32,247.65 243.56,247.16 245.79,246.65 248.02,246.21 250.26,245.72 252.49,245.20 254.72,244.73 256.96,244.31 259.19,244.03 261.42,243.75 263.66,243.57 265.89,243.63 268.12,243.80 270.36,243.93 272.59,244.62 274.82,244.94 277.06,245.07 279.29,245.18 281.52,245.27 283.76,245.09 285.99,244.70 288.22,244.32 290.46,244.25 292.69,244.30 294.92,244.17 297.16,244.11 299.39,244.07 301.62,243.63 303.86,243.04 306.09,242.40 308.32,241.70 310.56,240.99 312.79,240.01 315.02,238.99 317.26,238.14 319.49,236.99 321.72,235.97 323.96,235.02 326.19,233.88 328.42,232.79 330.66,231.40 332.89,230.09 335.12,229.10 337.36,228.09 339.59,226.80 341.82,225.18 344.06,223.40 346.29,221.49 348.52,219.27 350.76,216.94 352.99,214.56 355.23,211.90 357.46,209.14 359.69,206.39 361.93,203.84 364.16,200.98 366.39,198.49 368.63,195.54 370.86,192.46 373.09,189.66 375.33,186.70 377.56,183.64 379.79,181.03 382.03,178.44 384.26,175.65 386.49,172.73 388.73,169.87 390.96,167.11 393.19,164.80 395.43,162.27 397.66,159.89 399.89,157.51 402.13,155.03 404.36,152.60 406.59,150.24 408.83,147.56 411.06,144.84 413.29,142.67 415.53,140.57 417.76,138.36 419.99,136.40 422.23,134.21 424.46,132.09 426.69,130.04 428.93,128.14 431.16,126.82 433.39,125.34 435.63,123.66 437.86,121.93 440.09,120.37 442.33,119.02 444.56,117.77 446.79,116.18 449.03,114.85 451.26,113.33 453.49,111.77 455.73,111.22 457.96,110.71 460.20,110.40 462.43,110.19 464.66,110.09 466.90,110.06 469.13,110.23 471.36,110.43 473.60,110.47 475.83,110.57 478.06,110.76 480.30,111.18 482.53,111.73 484.76,112.27 487.00,112.72 489.23,113.28 491.46,113.23 493.70,113.16 495.93,112.82 498.16,112.61 500.40,112.14 502.63,111.94 504.86,111.27 507.10,110.84 509.33,109.87 511.56,108.93 513.80,108.08 516.03,106.75 518.26,105.47 520.50,104.62 522.73,104.27 524.96,103.76 527.20,103.32 529.43,103.21 531.66,103.31 533.90,103.55 536.13,103.90 538.36,104.00 540.60,103.41 542.83,102.41 545.06,101.47 547.30,101.17" fill="none" stroke="#4a70b6" stroke-width="0.85"/><line x1="67" y1="120.9" x2="587.5" y2="39.2" stroke="#dc4250" stroke-width="1.2"/><line x1="67" y1="199.7" x2="587.5" y2="118.0" stroke="#dc4250" stroke-width="1.2"/><line x1="67" y1="341.9" x2="587.5" y2="144.6" stroke="#3a7ecc" stroke-width="1.1"/><line x1="160.9" y1="196.2" x2="165.9" y2="196.2" stroke="#1a1a1a" stroke-width="1.1"/><line x1="163.1" y1="194.6" x2="163.1" y2="196.7" stroke="#1a1a1a" stroke-width="1"/><line x1="516.3" y1="50.6" x2="521.3" y2="50.6" stroke="#1a1a1a" stroke-width="1.1"/><line x1="518.4" y1="49.0" x2="518.4" y2="51.1" stroke="#1a1a1a" stroke-width="1"/><line x1="69.6" y1="339.9" x2="74.4" y2="339.9" stroke="#1a1a1a" stroke-width="1.1"/><line x1="71.6" y1="339.4" x2="71.6" y2="341.3" stroke="#1a1a1a" stroke-width="1"/><clipPath id="rc"><rect x="67" y="361" width="522" height="142"/></clipPath><polyline points="69.35,504.88 71.58,489.68 73.82,461.24 76.05,461.81 78.28,450.44 80.52,454.33 82.75,418.83 84.98,426.43 87.22,425.13 89.45,415.51 91.68,406.71 93.92,404.66 96.15,410.29 98.38,412.44 100.62,409.20 102.85,407.07 105.08,400.26 107.32,408.14 109.55,417.75 111.78,418.49 114.02,417.15 116.25,414.02 118.48,425.25 120.72,431.20 122.95,444.47 125.19,439.63 127.42,450.39 129.65,446.57 131.89,436.50 134.12,439.09 136.35,427.30 138.59,428.01 140.82,429.50 143.05,418.41 145.29,425.99 147.52,424.96 149.75,419.85 151.99,414.19 154.22,403.64 156.45,402.61 158.69,409.65 160.92,397.55 163.15,426.40 165.39,431.85 167.62,428.92 169.85,428.06 172.09,441.52 174.32,452.33 176.55,452.78 178.79,431.14 181.02,427.76 183.25,436.30 185.49,433.01 187.72,427.83 189.95,432.69 192.19,426.57 194.42,423.82 196.65,418.53 198.89,414.94 201.12,422.67 203.35,423.96 205.59,426.63 207.82,437.41 210.05,436.87 212.29,435.74 214.52,447.13 216.75,445.21 218.99,448.97 221.22,445.47 223.45,432.84 225.69,429.44 227.92,447.29 230.15,458.71 232.39,448.31 234.62,444.86 236.85,449.29 239.09,444.41 241.32,452.78 243.56,448.94 245.79,450.11 248.02,441.01 250.26,437.93 252.49,436.67 254.72,427.67 256.96,438.68 259.19,447.72 261.42,441.27 263.66,441.27 265.89,442.00 268.12,449.20 270.36,451.97 272.59,468.35 274.82,468.35 277.06,458.03 279.29,450.92 281.52,447.09 283.76,441.85 285.99,441.09 288.22,442.76 290.46,434.07 292.69,437.72 294.92,435.28 297.16,435.28 299.39,427.00 301.62,404.66 303.86,393.77 306.09,389.90 308.32,385.11 310.56,382.58 312.79,379.02 315.02,378.49 317.26,399.97 319.49,395.28 321.72,405.44 323.96,410.69 326.19,408.88 328.42,411.30 330.66,401.21 332.89,405.23 335.12,417.44 337.36,414.62 339.59,412.21 341.82,405.87 344.06,395.55 346.29,390.69 348.52,385.10 350.76,381.85 352.99,388.49 355.23,382.06 357.46,380.78 359.69,378.98 361.93,392.24 364.16,385.61 366.39,401.96 368.63,394.70 370.86,394.70 373.09,406.60 375.33,402.71 377.56,400.23 379.79,429.32 382.03,431.21 384.26,433.56 386.49,428.55 388.73,427.00 390.96,427.93 393.19,447.84 395.43,436.10 397.66,442.23 399.89,442.95 402.13,435.25 404.36,438.84 406.59,440.87 408.83,428.02 411.06,423.77 413.29,434.12 415.53,427.16 417.76,419.29 419.99,423.73 422.23,413.64 424.46,411.32 426.69,413.26 428.93,431.67 431.16,448.56 433.39,446.89 435.63,441.22 437.86,437.96 440.09,446.03 442.33,444.23 444.56,449.85 446.79,441.30 449.03,449.40 451.26,439.49 453.49,432.81 455.73,457.72 457.96,452.27 460.20,450.65 462.43,447.99 464.66,454.20 466.90,444.11 469.13,448.43 471.36,445.04 473.60,445.04 475.83,434.56 478.06,447.59 480.30,443.55 482.53,448.50 484.76,455.04 487.00,444.65 489.23,444.99 491.46,442.79 493.70,443.57 495.93,433.90 498.16,433.90 500.40,421.96 502.63,436.52 504.86,434.49 507.10,432.07 509.33,418.72 511.56,420.58 513.80,417.45 516.03,406.00 518.26,411.37 520.50,417.60 522.73,436.24 524.96,437.73 527.20,433.43 529.43,437.86 531.66,449.91 533.90,441.90 536.13,443.01 538.36,433.89 540.60,422.93 542.83,423.36 545.06,424.74 547.30,447.16" fill="none" stroke="#47b2c9" stroke-width="1" clip-path="url(#rc)"/><line x1="64.5" y1="15.71" x2="67.5" y2="15.71" stroke="#dcdcdc" stroke-width="0.8"/><line x1="587.8" y1="15.71" x2="590.2" y2="15.71" stroke="#d4d4d4" stroke-width="0.8"/><line x1="64.5" y1="59.03" x2="67.5" y2="59.03" stroke="#dcdcdc" stroke-width="0.8"/><line x1="587.8" y1="59.03" x2="590.2" y2="59.03" stroke="#d4d4d4" stroke-width="0.8"/><line x1="64.5" y1="102.36" x2="67.5" y2="102.36" stroke="#dcdcdc" stroke-width="0.8"/><line x1="64.5" y1="145.69" x2="67.5" y2="145.69" stroke="#dcdcdc" stroke-width="0.8"/><line x1="587.8" y1="145.69" x2="590.2" y2="145.69" stroke="#d4d4d4" stroke-width="0.8"/><line x1="64.5" y1="189.01" x2="67.5" y2="189.01" stroke="#dcdcdc" stroke-width="0.8"/><line x1="587.8" y1="189.01" x2="590.2" y2="189.01" stroke="#d4d4d4" stroke-width="0.8"/><line x1="64.5" y1="232.34" x2="67.5" y2="232.34" stroke="#dcdcdc" stroke-width="0.8"/><line x1="587.8" y1="232.34" x2="590.2" y2="232.34" stroke="#d4d4d4" stroke-width="0.8"/><line x1="64.5" y1="275.66" x2="67.5" y2="275.66" stroke="#dcdcdc" stroke-width="0.8"/><line x1="587.8" y1="275.66" x2="590.2" y2="275.66" stroke="#d4d4d4" stroke-width="0.8"/><line x1="64.5" y1="318.99" x2="67.5" y2="318.99" stroke="#dcdcdc" stroke-width="0.8"/><line x1="587.8" y1="318.99" x2="590.2" y2="318.99" stroke="#d4d4d4" stroke-width="0.8"/><line x1="111.25" y1="504" x2="111.25" y2="507.5" stroke="#cfcfcf" stroke-width="0.8"/><line x1="160" y1="504" x2="160" y2="507.5" stroke="#cfcfcf" stroke-width="0.8"/><line x1="205.4" y1="504" x2="205.4" y2="507.5" stroke="#cfcfcf" stroke-width="0.8"/><line x1="254.5" y1="504" x2="254.5" y2="507.5" stroke="#cfcfcf" stroke-width="0.8"/><line x1="300.75" y1="504" x2="300.75" y2="507.5" stroke="#cfcfcf" stroke-width="0.8"/><line x1="346.25" y1="504" x2="346.25" y2="507.5" stroke="#cfcfcf" stroke-width="0.8"/><line x1="395.5" y1="504" x2="395.5" y2="507.5" stroke="#cfcfcf" stroke-width="0.8"/><line x1="491.5" y1="504" x2="491.5" y2="507.5" stroke="#cfcfcf" stroke-width="0.8"/><line x1="66.5" y1="503.5" x2="66.5" y2="518" stroke="#e0e0e0" stroke-width="1"/><path d="M47.8 514.6 L50.9 509.6 L54 514.6 Z" fill="#d98a4a"/><rect x="74" y="518.5" width="43" height="11" fill="#f06c14"/><line x1="44.5" y1="518.5" x2="44.5" y2="529" stroke="#d8d8d8" stroke-width="1"/><line x1="174.5" y1="518.5" x2="174.5" y2="529" stroke="#d8d8d8" stroke-width="1"/><line x1="216" y1="518.5" x2="216" y2="529" stroke="#d8d8d8" stroke-width="1"/><line x1="259.4" y1="518.5" x2="259.4" y2="529" stroke="#d8d8d8" stroke-width="1"/><line x1="299" y1="518.5" x2="299" y2="529" stroke="#d8d8d8" stroke-width="1"/><line x1="337.5" y1="518.5" x2="337.5" y2="529" stroke="#d8d8d8" stroke-width="1"/><line x1="390" y1="518.5" x2="390" y2="529" stroke="#d8d8d8" stroke-width="1"/><line x1="423.75" y1="518.5" x2="423.75" y2="529" stroke="#d8d8d8" stroke-width="1"/><line x1="462.5" y1="518.5" x2="462.5" y2="529" stroke="#d8d8d8" stroke-width="1"/><line x1="497.5" y1="518.5" x2="497.5" y2="529" stroke="#d8d8d8" stroke-width="1"/><line x1="518.75" y1="518.5" x2="518.75" y2="529" stroke="#d8d8d8" stroke-width="1"/><rect x="541.5" y="1" width="9.5" height="9.5" fill="#d6e8f7" stroke="#5d86b3" stroke-width="0.9"/><rect x="553.3" y="1" width="9.5" height="9.5" fill="#d6e8f7" stroke="#5d86b3" stroke-width="0.9"/><rect x="565.3" y="1" width="9.5" height="9.5" fill="#d6e8f7" stroke="#5d86b3" stroke-width="0.9"/><rect x="577" y="1" width="9.5" height="9.5" fill="#d6e8f7" stroke="#5d86b3" stroke-width="0.9"/><rect x="543.7" y="3.2" width="1.9" height="1.9" fill="#2d5a88"/><rect x="546.9" y="3.2" width="1.9" height="1.9" fill="#2d5a88"/><rect x="543.7" y="6.4" width="1.9" height="1.9" fill="#2d5a88"/><rect x="546.9" y="6.4" width="1.9" height="1.9" fill="#2d5a88"/><line x1="556" y1="3" x2="556" y2="8.6" stroke="#2d5a88" stroke-width="1"/><path d="M560.6 3 L557 5.8 L560.6 8.6 Z" fill="#2d5a88"/><line x1="568" y1="3" x2="568" y2="8.6" stroke="#2d5a88" stroke-width="1"/><path d="M569.4 3 L573 5.8 L569.4 8.6 Z" fill="#2d5a88"/><line x1="579.4" y1="2.6" x2="579.4" y2="9" stroke="#2d5a88" stroke-width="0.8" stroke-dasharray="1 0.8"/><line x1="580.5" y1="5.8" x2="583" y2="5.8" stroke="#2d5a88" stroke-width="1.4"/><path d="M582.6 3.6 L585.4 5.8 L582.6 8 Z" fill="#2d5a88"/><circle cx="143.6" cy="7.8" r="3.3" fill="#fbe1c4" stroke="#f2b27a" stroke-width="0.7"/><line x1="141.2" y1="7.8" x2="146" y2="7.8" stroke="#f0a060" stroke-width="0.8"/><path d="M156.5 1.3 L160.4 5.2 L158.2 5.2 L158.2 10 L154.8 10 L154.8 5.2 L152.6 5.2 Z" fill="#d8182c"/><rect x="154.8" y="6.5" width="3.4" height="3.5" fill="#3a1a1e"/><rect x="224.8" y="1.8" width="8.6" height="8.4" fill="#e8d8f4" stroke="#6a3a9c" stroke-width="1"/><path d="M225.8 8.5 L228 4.5 L230 7 L232.5 3.5" fill="none" stroke="#6a3a9c" stroke-width="0.8"/><path d="M225.8 4 L228 7.5 L230 5 L232.5 8.5" fill="none" stroke="#c05ac0" stroke-width="0.7"/><rect x="588.8" y="93.4" width="48.8" height="12.4" fill="#fff" stroke="#f0b060" stroke-width="1"/><line x1="586" y1="93.4" x2="634" y2="93.4" stroke="#c49060" stroke-width="1"/><path d="M633.2 93 L635.6 89.6 L638 93 Z M633 88.6 L638.2 88.6" fill="#f09a30" stroke="#f09a30" stroke-width="0.8"/><circle cx="21.6" cy="368" r="2.8" fill="#f3d0d6" stroke="#7a2a3a" stroke-width="1.1"/><circle cx="21.6" cy="368" r="1" fill="#7a2a3a"/><line x1="25.80" y1="368.00" x2="27.20" y2="368.00" stroke="#8a3a4a" stroke-width="1"/><line x1="24.57" y1="370.97" x2="25.56" y2="371.96" stroke="#8a3a4a" stroke-width="1"/><line x1="21.60" y1="372.20" x2="21.60" y2="373.60" stroke="#8a3a4a" stroke-width="1"/><line x1="18.63" y1="370.97" x2="17.64" y2="371.96" stroke="#8a3a4a" stroke-width="1"/><line x1="17.40" y1="368.00" x2="16.00" y2="368.00" stroke="#8a3a4a" stroke-width="1"/><line x1="18.63" y1="365.03" x2="17.64" y2="364.04" stroke="#8a3a4a" stroke-width="1"/><line x1="21.60" y1="363.80" x2="21.60" y2="362.40" stroke="#8a3a4a" stroke-width="1"/><line x1="24.57" y1="365.03" x2="25.56" y2="364.04" stroke="#8a3a4a" stroke-width="1"/>
<text x="64.6" y="18.61" font-size="10" fill="#333" text-anchor="end" font-family='"Liberation Sans", "Noto Sans CJK SC", sans-serif' textLength="33.43" lengthAdjust="spacingAndGlyphs">2564.35</text><text x="589.8" y="18.61" font-size="10" fill="#333" text-anchor="start" font-family='"Liberation Sans", "Noto Sans CJK SC", sans-serif' textLength="33.43" lengthAdjust="spacingAndGlyphs">2564.35</text><text x="64.6" y="61.93" font-size="10" fill="#333" text-anchor="end" font-family='"Liberation Sans", "Noto Sans CJK SC", sans-serif' textLength="33.43" lengthAdjust="spacingAndGlyphs">2463.50</text><text x="589.8" y="61.93" font-size="10" fill="#333" text-anchor="start" font-family='"Liberation Sans", "Noto Sans CJK SC", sans-serif' textLength="33.43" lengthAdjust="spacingAndGlyphs">2463.50</text><text x="64.6" y="105.26" font-size="10" fill="#333" text-anchor="end" font-family='"Liberation Sans", "Noto Sans CJK SC", sans-serif' textLength="33.43" lengthAdjust="spacingAndGlyphs">2362.65</text><text x="64.6" y="148.59" font-size="10" fill="#333" text-anchor="end" font-family='"Liberation Sans", "Noto Sans CJK SC", sans-serif' textLength="33.43" lengthAdjust="spacingAndGlyphs">2261.80</text><text x="589.8" y="148.59" font-size="10" fill="#333" text-anchor="start" font-family='"Liberation Sans", "Noto Sans CJK SC", sans-serif' textLength="33.43" lengthAdjust="spacingAndGlyphs">2261.80</text><text x="64.6" y="191.91" font-size="10" fill="#333" text-anchor="end" font-family='"Liberation Sans", "Noto Sans CJK SC", sans-serif' textLength="33.43" lengthAdjust="spacingAndGlyphs">2160.95</text><text x="589.8" y="191.91" font-size="10" fill="#333" text-anchor="start" font-family='"Liberation Sans", "Noto Sans CJK SC", sans-serif' textLength="33.43" lengthAdjust="spacingAndGlyphs">2160.95</text><text x="64.6" y="235.24" font-size="10" fill="#333" text-anchor="end" font-family='"Liberation Sans", "Noto Sans CJK SC", sans-serif' textLength="33.43" lengthAdjust="spacingAndGlyphs">2060.10</text><text x="589.8" y="235.24" font-size="10" fill="#333" text-anchor="start" font-family='"Liberation Sans", "Noto Sans CJK SC", sans-serif' textLength="33.43" lengthAdjust="spacingAndGlyphs">2060.10</text><text x="64.6" y="278.56" font-size="10" fill="#333" text-anchor="end" font-family='"Liberation Sans", "Noto Sans CJK SC", sans-serif' textLength="33.43" lengthAdjust="spacingAndGlyphs">1959.25</text><text x="589.8" y="278.56" font-size="10" fill="#333" text-anchor="start" font-family='"Liberation Sans", "Noto Sans CJK SC", sans-serif' textLength="33.43" lengthAdjust="spacingAndGlyphs">1959.25</text><text x="64.6" y="321.89" font-size="10" fill="#333" text-anchor="end" font-family='"Liberation Sans", "Noto Sans CJK SC", sans-serif' textLength="33.43" lengthAdjust="spacingAndGlyphs">1858.40</text><text x="589.8" y="321.89" font-size="10" fill="#333" text-anchor="start" font-family='"Liberation Sans", "Noto Sans CJK SC", sans-serif' textLength="33.43" lengthAdjust="spacingAndGlyphs">1858.40</text><text x="64.6" y="382.2" font-size="10" fill="#333" text-anchor="end" font-family='"Liberation Sans", "Noto Sans CJK SC", sans-serif' textLength="23.14" lengthAdjust="spacingAndGlyphs">84.63</text><text x="589.8" y="382.2" font-size="10" fill="#333" text-anchor="start" font-family='"Liberation Sans", "Noto Sans CJK SC", sans-serif' textLength="23.14" lengthAdjust="spacingAndGlyphs">84.63</text><text x="64.6" y="399.7" font-size="10" fill="#333" text-anchor="end" font-family='"Liberation Sans", "Noto Sans CJK SC", sans-serif' textLength="23.14" lengthAdjust="spacingAndGlyphs">75.28</text><text x="589.8" y="399.7" font-size="10" fill="#333" text-anchor="start" font-family='"Liberation Sans", "Noto Sans CJK SC", sans-serif' textLength="23.14" lengthAdjust="spacingAndGlyphs">75.28</text><text x="64.6" y="417.3" font-size="10" fill="#333" text-anchor="end" font-family='"Liberation Sans", "Noto Sans CJK SC", sans-serif' textLength="23.14" lengthAdjust="spacingAndGlyphs">65.94</text><text x="589.8" y="417.3" font-size="10" fill="#333" text-anchor="start" font-family='"Liberation Sans", "Noto Sans CJK SC", sans-serif' textLength="23.14" lengthAdjust="spacingAndGlyphs">65.94</text><text x="64.6" y="434.8" font-size="10" fill="#333" text-anchor="end" font-family='"Liberation Sans", "Noto Sans CJK SC", sans-serif' textLength="23.14" lengthAdjust="spacingAndGlyphs">56.59</text><text x="64.6" y="452.3" font-size="10" fill="#333" text-anchor="end" font-family='"Liberation Sans", "Noto Sans CJK SC", sans-serif' textLength="23.14" lengthAdjust="spacingAndGlyphs">47.25</text><text x="589.8" y="452.3" font-size="10" fill="#333" text-anchor="start" font-family='"Liberation Sans", "Noto Sans CJK SC", sans-serif' textLength="23.14" lengthAdjust="spacingAndGlyphs">47.25</text><text x="64.6" y="469.9" font-size="10" fill="#333" text-anchor="end" font-family='"Liberation Sans", "Noto Sans CJK SC", sans-serif' textLength="23.14" lengthAdjust="spacingAndGlyphs">37.91</text><text x="589.8" y="469.9" font-size="10" fill="#333" text-anchor="start" font-family='"Liberation Sans", "Noto Sans CJK SC", sans-serif' textLength="23.14" lengthAdjust="spacingAndGlyphs">37.91</text><text x="64.6" y="487.4" font-size="10" fill="#333" text-anchor="end" font-family='"Liberation Sans", "Noto Sans CJK SC", sans-serif' textLength="23.14" lengthAdjust="spacingAndGlyphs">28.56</text><text x="589.8" y="487.4" font-size="10" fill="#333" text-anchor="start" font-family='"Liberation Sans", "Noto Sans CJK SC", sans-serif' textLength="23.14" lengthAdjust="spacingAndGlyphs">28.56</text><text x="589.8" y="431.8" font-size="10" fill="#e8b050" text-anchor="start" font-family='"Liberation Sans", "Noto Sans CJK SC", sans-serif' textLength="23.14" lengthAdjust="spacingAndGlyphs">61.91</text><text x="166.3" y="194" font-size="9" fill="#c04658" text-anchor="start" font-weight="normal" font-family='"Liberation Sans", "Noto Sans CJK SC", sans-serif' >2144.68</text><text x="521.5" y="47.8" font-size="9" fill="#d8404e" text-anchor="start" font-weight="normal" font-family='"Liberation Sans", "Noto Sans CJK SC", sans-serif' >2483.56</text><text x="75.8" y="348.7" font-size="9" fill="#6ab88e" text-anchor="start" font-weight="bold" font-family='"Liberation Sans", "Noto Sans CJK SC", sans-serif' >1810.33</text><text x="68.6" y="10.2" font-size="8.9" fill="#111" text-anchor="start" font-weight="500" font-family='"Noto Sans CJK SC", "Liberation Sans", sans-serif' >现货黄金</text><text x="104.9" y="10.4" font-size="8.4" fill="#f0a060" text-anchor="start" font-weight="normal" font-family='"Noto Sans CJK SC", "Liberation Sans", sans-serif' >【日线】</text><text x="164.0" y="10.7" font-size="9.9" fill="#222" stroke="#222" stroke-width="0.15" font-weight="normal" font-family='"Liberation Sans", "Noto Sans CJK SC", sans-serif' textLength="55.0" lengthAdjust="spacingAndGlyphs">BIAS(12,-6,6)</text><text x="235.6" y="10.7" font-size="9.9" fill="#222" stroke="#222" stroke-width="0.15" font-weight="normal" font-family='"Liberation Sans", "Noto Sans CJK SC", sans-serif' textLength="67.6" lengthAdjust="spacingAndGlyphs">MA(50,0,0,0,0,0)</text><text x="306.8" y="10.7" font-size="9.9" fill="#5a8fd0" stroke="#5a8fd0" stroke-width="0.2" font-weight="normal" font-family='"Liberation Sans", "Noto Sans CJK SC", sans-serif' textLength="61.0" lengthAdjust="spacingAndGlyphs">MA50:2365.37</text><text x="374.0" y="10.7" font-size="9.9" fill="#5aae90" stroke="#5aae90" stroke-width="0.2" font-weight="normal" font-family='"Liberation Sans", "Noto Sans CJK SC", sans-serif' textLength="55.9" lengthAdjust="spacingAndGlyphs">MA0:2385.50</text><text x="436.3" y="10.7" font-size="9.9" fill="#4aa8c8" stroke="#4aa8c8" stroke-width="0.2" font-weight="normal" font-family='"Liberation Sans", "Noto Sans CJK SC", sans-serif' textLength="50.0" lengthAdjust="spacingAndGlyphs">MA0:2385.5</text><text x="68.4" y="373.9" font-size="9.9" fill="#222" stroke="#222" stroke-width="0.15" font-weight="normal" font-family='"Liberation Sans", "Noto Sans CJK SC", sans-serif' textLength="56.2" lengthAdjust="spacingAndGlyphs">RSI(14,14,14)</text><text x="127.5" y="373.9" font-size="9.9" fill="#5a8fd0" stroke="#5a8fd0" stroke-width="0.2" font-weight="normal" font-family='"Liberation Sans", "Noto Sans CJK SC", sans-serif' textLength="45.0" lengthAdjust="spacingAndGlyphs">RSI1:48.10</text><text x="177.6" y="373.9" font-size="9.9" fill="#5aae90" stroke="#5aae90" stroke-width="0.2" font-weight="normal" font-family='"Liberation Sans", "Noto Sans CJK SC", sans-serif' textLength="45.3" lengthAdjust="spacingAndGlyphs">RSI2:48.10</text><text x="227.6" y="373.9" font-size="9.9" fill="#5aa8d0" stroke="#5aa8d0" stroke-width="0.2" font-weight="normal" font-family='"Liberation Sans", "Noto Sans CJK SC", sans-serif' textLength="45.8" lengthAdjust="spacingAndGlyphs">RSI3:48.10</text><text x="112.85" y="512.9" font-size="9" fill="#222" text-anchor="start" font-weight="bold" font-family='"Liberation Sans", "Noto Sans CJK SC", sans-serif' >2023/11</text><text x="161.6" y="512.9" font-size="9" fill="#222" text-anchor="start" font-weight="bold" font-family='"Liberation Sans", "Noto Sans CJK SC", sans-serif' >2023/12</text><text x="207.0" y="512.9" font-size="9" fill="#222" text-anchor="start" font-weight="bold" font-family='"Liberation Sans", "Noto Sans CJK SC", sans-serif' >2024/01</text><text x="256.1" y="512.9" font-size="9" fill="#222" text-anchor="start" font-weight="bold" font-family='"Liberation Sans", "Noto Sans CJK SC", sans-serif' >2024/02</text><text x="302.35" y="512.9" font-size="9" fill="#222" text-anchor="start" font-weight="bold" font-family='"Liberation Sans", "Noto Sans CJK SC", sans-serif' >2024/03</text><text x="347.85" y="512.9" font-size="9" fill="#222" text-anchor="start" font-weight="bold" font-family='"Liberation Sans", "Noto Sans CJK SC", sans-serif' >2024/04</text><text x="397.1" y="512.9" font-size="9" fill="#222" text-anchor="start" font-weight="bold" font-family='"Liberation Sans", "Noto Sans CJK SC", sans-serif' >2024/05</text><text x="493.1" y="512.9" font-size="9" fill="#222" text-anchor="start" font-weight="bold" font-family='"Liberation Sans", "Noto Sans CJK SC", sans-serif' >2024/07</text><text x="7.2" y="13.6" font-size="9.4" fill="#2b3448" text-anchor="middle" font-weight="500" font-family='"Noto Sans CJK SC", "Liberation Sans", sans-serif' >分</text><text x="7.2" y="24.4" font-size="9.4" fill="#2b3448" text-anchor="middle" font-weight="500" font-family='"Noto Sans CJK SC", "Liberation Sans", sans-serif' >时</text><text x="7.2" y="34.2" font-size="9.4" fill="#2b3448" text-anchor="middle" font-weight="500" font-family='"Noto Sans CJK SC", "Liberation Sans", sans-serif' >图</text><text x="7.4" y="48.8" font-size="8.2" fill="#ffe2a8" text-anchor="middle" font-weight="normal" font-family='"Liberation Serif", serif' >K</text><text x="7.2" y="59.4" font-size="9.4" fill="#ffe6b0" text-anchor="middle" font-weight="500" font-family='"Noto Sans CJK SC", "Liberation Sans", sans-serif' >线</text><text x="7.2" y="70.0" font-size="9.4" fill="#ffe6b0" text-anchor="middle" font-weight="500" font-family='"Noto Sans CJK SC", "Liberation Sans", sans-serif' >图</text><text x="7.2" y="86.2" font-size="9.4" fill="#2b3448" text-anchor="middle" font-weight="500" font-family='"Noto Sans CJK SC", "Liberation Sans", sans-serif' >闪</text><text x="7.2" y="96.8" font-size="9.4" fill="#2b3448" text-anchor="middle" font-weight="500" font-family='"Noto Sans CJK SC", "Liberation Sans", sans-serif' >电</text><text x="7.2" y="107.6" font-size="9.4" fill="#2b3448" text-anchor="middle" font-weight="500" font-family='"Noto Sans CJK SC", "Liberation Sans", sans-serif' >图</text><text x="7.2" y="122.4" font-size="9.4" fill="#2b3448" text-anchor="middle" font-weight="500" font-family='"Noto Sans CJK SC", "Liberation Sans", sans-serif' >合</text><text x="7.2" y="133.2" font-size="9.4" fill="#2b3448" text-anchor="middle" font-weight="500" font-family='"Noto Sans CJK SC", "Liberation Sans", sans-serif' >约</text><text x="7.2" y="144.0" font-size="9.4" fill="#2b3448" text-anchor="middle" font-weight="500" font-family='"Noto Sans CJK SC", "Liberation Sans", sans-serif' >资</text><text x="7.2" y="154.8" font-size="9.4" fill="#2b3448" text-anchor="middle" font-weight="500" font-family='"Noto Sans CJK SC", "Liberation Sans", sans-serif' >料</text><text x="25.8" y="515.2" font-size="9.6" fill="#f0964a" text-anchor="start" font-weight="bold" font-family='"Noto Sans CJK SC", "Liberation Sans", sans-serif' >日线</text><text x="21.2" y="528.2" font-size="9.2" fill="#222" text-anchor="start" font-weight="normal" font-family='"Noto Sans CJK SC", "Liberation Sans", sans-serif' >指标</text><text x="50.2" y="528.2" font-size="9.2" fill="#222" text-anchor="start" font-weight="normal" font-family='"Noto Sans CJK SC", "Liberation Sans", sans-serif' >模板</text><text x="80.3" y="528.0" font-size="9.0" fill="#ffe2bc" text-anchor="start" font-weight="normal" font-family='"Liberation Serif", "Noto Sans CJK SC", serif' >VIP指标</text><text x="590.4" y="103.2" font-size="10" fill="#e0a458" text-anchor="start" font-family='"Liberation Sans", "Noto Sans CJK SC", sans-serif' textLength="33.43" lengthAdjust="spacingAndGlyphs">2385.58</text>
<rect x="419" y="504.5" width="84.2" height="13" fill="#fff"/><text x="420.4" y="513" font-size="9.2" fill="#f0a050" font-family='"Liberation Sans", "Noto Sans CJK SC", sans-serif' textLength="78.2" lengthAdjust="spacingAndGlyphs">2024/05/17 星期五</text><text transform="scale(0.6 1)" x="206.98 214.11 221.72 228.84 236.93 243.58 250.94 259.27 265.68 273.04" y="527.2" font-size="8.6" fill="#111" stroke="#111" stroke-width="0.3" font-family='"Liberation Serif", serif'>BARUPDN_UD</text><text transform="scale(0.6 1)" x="301.82 310.62 316.31 324.39 332.00 338.41 345.78" y="527.2" font-size="8.6" fill="#111" stroke="#111" stroke-width="0.3" font-family='"Liberation Serif", serif'>BIAS_UD</text><text transform="scale(0.6 1)" x="373.65 380.78 388.62 395.99 403.83 410.24 417.61" y="527.2" font-size="8.6" fill="#111" stroke="#111" stroke-width="0.3" font-family='"Liberation Serif", serif'>BOLL_UD</text><text transform="scale(0.6 1)" x="444.98 452.35 461.15 467.80 474.21 481.58" y="527.2" font-size="8.6" fill="#111" stroke="#111" stroke-width="0.3" font-family='"Liberation Serif", serif'>CCI_UD</text><text transform="scale(0.6 1)" x="508.58 515.23 524.98 531.63 538.04 545.41" y="527.2" font-size="8.6" fill="#111" stroke="#111" stroke-width="0.3" font-family='"Liberation Serif", serif'>DMI_UD</text><text transform="scale(0.6 1)" x="575.17 580.86 588.94 597.27 602.96 610.81 618.65 625.06 632.43" y="527.2" font-size="8.6" fill="#111" stroke="#111" stroke-width="0.3" font-family='"Liberation Serif", serif'>INSIDE_UD</text><text transform="scale(0.6 1)" x="660.99 668.36 676.68 683.09 690.46" y="527.2" font-size="8.6" fill="#111" stroke="#111" stroke-width="0.3" font-family='"Liberation Serif", serif'>KD_UD</text><text transform="scale(0.6 1)" x="718.91 726.28 735.08 741.97 748.38 755.74" y="527.2" font-size="8.6" fill="#111" stroke="#111" stroke-width="0.3" font-family='"Liberation Serif", serif'>KDJ_UD</text><text transform="scale(0.6 1)" x="781.11 789.19 797.52 803.93 811.29" y="527.2" font-size="8.6" fill="#111" stroke="#111" stroke-width="0.3" font-family='"Liberation Serif", serif'>MA_UD</text><text transform="scale(0.6 1)" x="840.84 848.21" y="527.2" font-size="8.6" fill="#111" stroke="#111" stroke-width="0.3" font-family='"Liberation Serif", serif'>&gt;&gt;</text>
</svg>
</body></html>
